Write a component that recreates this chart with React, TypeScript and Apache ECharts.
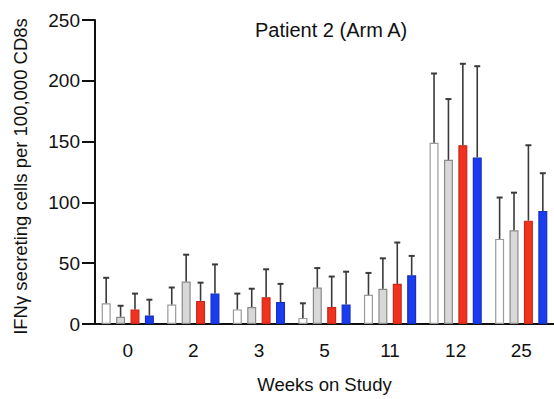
import React, { useEffect, useRef } from "react";
import * as echarts from "echarts";

const weeks = ["0", "2", "3", "5", "11", "12", "25"];
const whiteMean = [17, 16, 12, 5, 24, 149, 70];
const whiteUpper = [38, 30, 25, 17, 42, 206, 104];
const grayMean = [6, 35, 14, 30, 29, 135, 77];
const grayUpper = [15, 57, 29, 46, 54, 185, 108];
const redMean = [12, 19, 22, 14, 33, 147, 85];
const redUpper = [25, 34, 45, 39, 67, 214, 147];
const blueMean = [7, 25, 18, 16, 40, 137, 93];
const blueUpper = [20, 49, 33, 43, 56, 212, 124];

const yTicks = [0, 50, 100, 150, 200, 250];

const FONT = "'Liberation Sans', Arial, Helvetica, sans-serif";
const BAR_W = 9;
const GAP_PCT = 0.6;
const PITCH = BAR_W * (1 + GAP_PCT);

const groups = [
  { mean: whiteMean, upper: whiteUpper, fill: "#ffffff", border: "#9a9a9a" },
  { mean: grayMean, upper: grayUpper, fill: "#d8d8d8", border: "#8a8a8a" },
  { mean: redMean, upper: redUpper, fill: "#f0321e", border: "#c8281a" },
  { mean: blueMean, upper: blueUpper, fill: "#1a3cf0", border: "#1530c0" },
];

export default function App() {
  const ref = useRef<HTMLDivElement>(null);
  useEffect(() => {
    document.body.style.margin = "0";
    if (!ref.current) return;
    const chart = echarts.init(ref.current, undefined, { renderer: "svg" });

    const barSeries = groups.map((g) => ({
      type: "bar",
      data: g.mean,
      barWidth: BAR_W,
      barGap: `${GAP_PCT * 100}%`,
      itemStyle: { color: g.fill, borderColor: g.border, borderWidth: 1.2 },
      z: 2,
    }));

    const errData: number[][] = [];
    groups.forEach((g, si) => {
      g.mean.forEach((m, i) => errData.push([i, m, g.upper[i], si]));
    });

    const option: any = {
      animation: false,
      backgroundColor: "#ffffff",
      title: {
        text: "Patient 2 (Arm A)",
        left: 250,
        top: 15,
        textStyle: { fontFamily: FONT, fontSize: 20, fontWeight: "normal", color: "#111" },
      },
      grid: { left: 95, top: 20, width: 467, height: 306.5 },
      xAxis: {
        type: "category",
        data: weeks,
        name: "Weeks on Study",
        nameLocation: "middle",
        nameGap: 51,
        nameTextStyle: { fontFamily: FONT, fontSize: 18.5, color: "#111" },
        axisLine: { lineStyle: { color: "#111", width: 2 } },
        axisTick: { alignWithLabel: true, length: 12, lineStyle: { color: "#111", width: 2 } },
        axisLabel: { fontFamily: FONT, fontSize: 19, color: "#111", margin: 17 },
      },
      yAxis: {
        type: "value",
        min: yTicks[0],
        max: yTicks[yTicks.length - 1],
        interval: 50,
        name: "IFNγ secreting cells per 100,000 CD8s",
        nameLocation: "middle",
        nameGap: 65,
        nameTextStyle: { fontFamily: FONT, fontSize: 18.5, color: "#111", padding: [0, 9, 0, 0] },
        axisLine: { show: true, lineStyle: { color: "#111", width: 2 } },
        axisTick: { show: true, length: 13, lineStyle: { color: "#111", width: 2 } },
        axisLabel: { fontFamily: FONT, fontSize: 19, color: "#111", margin: 15 },
        splitLine: { show: false },
      },
      series: [
        ...barSeries,
        {
          type: "custom",
          data: errData,
          encode: { x: 0, y: [1, 2] },
          z: 3,
          renderItem: (_params: any, api: any) => {
            const cat = api.value(0);
            const mean = api.value(1);
            const up = api.value(2);
            const si = api.value(3);
            const base = api.coord([cat, mean]);
            const top = api.coord([cat, up]);
            const x = base[0] + (si - 1.5) * PITCH;
            return {
              type: "group",
              children: [
                {
                  type: "line",
                  shape: { x1: x, y1: base[1], x2: x, y2: top[1] },
                  style: { stroke: "#3a3a3a", lineWidth: 1.6 },
                },
                {
                  type: "line",
                  shape: { x1: x - 3, y1: top[1], x2: x + 3, y2: top[1] },
                  style: { stroke: "#3a3a3a", lineWidth: 2 },
                },
              ],
            };
          },
        },
      ],
    };
    chart.setOption(option);
    return () => chart.dispose();
  }, []);
  return <div ref={ref} style={{ width: 554, height: 399 }} />;
}
